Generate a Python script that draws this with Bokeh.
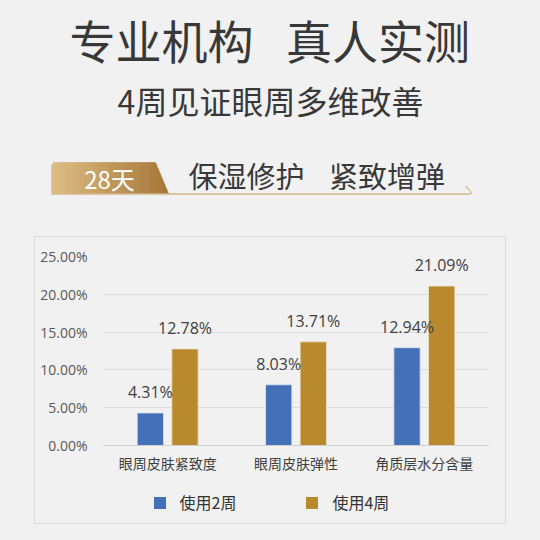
from bokeh.plotting import figure
from bokeh.models import (FactorRange, Range1d, ColumnDataSource, Legend, LegendItem,
                          FixedTicker, PrintfTickFormatter, Spacer, GlobalInlineStyleSheet)
from bokeh.layouts import column, row
from bokeh.transform import dodge
from bokeh.core.properties import value
from bokeh.embed import file_html
from bokeh.resources import INLINE

# ---------------- data ----------------
categories = ["眼周皮肤紧致度", "眼周皮肤弹性", "角质层水分含量"]
series_names = ["使用2周", "使用4周"]
week2 = [4.31, 8.03, 12.94]
week4 = [12.78, 13.71, 21.09]
y_ticks = [0, 5, 10, 15, 20, 25]

title_left = "专业机构"
title_right = "真人实测"
subtitle = "4周见证眼周多维改善"
badge_text = "28天"
heading_left = "保湿修护"
heading_right = "紧致增弹"

BG = "#f1f1f1"
BLUE = "#4470b8"
GOLD = "#b8892d"
BORDER = "1px solid #d9d9d9"
CJK = "Noto Sans CJK SC"

# ---------------- header figure ----------------
HW, HH = 540, 236
h = figure(width=HW, height=HH, x_range=Range1d(0, HW), y_range=Range1d(HH, 0),
           output_backend="svg", toolbar_location=None, min_border=0,
           x_axis_location=None, y_axis_location=None,
           background_fill_color=BG, border_fill_color=BG, outline_line_color=None)
h.grid.visible = False

h.text(x=[161, 377.5], y=[38, 38], text=[title_left, title_right],
       text_font=value(CJK), text_font_size="46px", text_color="#383838",
       text_align="center", text_baseline="middle")
h.text(x=[270], y=[99], text=[subtitle],
       text_font=value(CJK), text_font_size="32px", text_color="#383838",
       text_align="center", text_baseline="middle")

# badge with horizontal gradient (built from thin strips)
bx0, bx1, bx2, by0, by1 = 51, 155, 168, 162, 193
def ytop(x):
    if x <= bx1:
        return by0
    return by0 + (x - bx1) / (bx2 - bx1) * (by1 - by0)

c0 = (0xdc, 0xbd, 0x86)
c1 = (0xa6, 0x75, 0x32)
n = 58
xs, ys, cols = [], [], []
step = (bx2 - bx0) / n
for i in range(n):
    a = bx0 + i * step
    b = a + step
    px = [a]
    py = [ytop(a)]
    if a < bx1 < b:
        px.append(bx1)
        py.append(by0)
    px += [b, b, a]
    py += [ytop(b), by1, by1]
    if i == 0:
        py[0] = by0 + 3
    xs.append(px)
    ys.append(py)
    t = i / (n - 1)
    cols.append("#%02x%02x%02x" % tuple(int(c0[k] + (c1[k] - c0[k]) * t) for k in range(3)))
h.patches(xs=xs, ys=ys, fill_color=cols, line_color=cols, line_width=0.6)

h.line(x=[51, 470], y=[193.5, 193.5], line_color="#d2b688", line_width=1.5)
h.line(x=[465, 468, 470, 471.5], y=[186, 188.5, 191, 193.5], line_color="#d2b688", line_width=1.2)

h.text(x=[109], y=[178], text=[badge_text], text_font=value(CJK), text_font_size="24px",
       text_color="#ffffff", text_align="center", text_baseline="middle")
h.text(x=[246, 386.5], y=[174, 174], text=[heading_left, heading_right],
       text_font=value(CJK), text_font_size="29px", text_color="#383838",
       text_align="center", text_baseline="middle")

# ---------------- bar chart ----------------
src = ColumnDataSource(dict(
    cat=categories, w2=week2, w4=week4,
    l2=["%.2f%%" % v for v in week2], l4=["%.2f%%" % v for v in week4]))

p = figure(x_range=FactorRange(factors=categories), y_range=Range1d(0, 25),
           width=472, height=248, output_backend="svg", toolbar_location=None,
           min_border_left=68, min_border_right=19, min_border_top=19, min_border_bottom=40,
           background_fill_color=BG, border_fill_color=BG, outline_line_color=None)
p.styles = {"border-top": BORDER, "border-left": BORDER, "border-right": BORDER,
            "box-sizing": "border-box"}

r1 = p.vbar(x=dodge("cat", -0.135, range=p.x_range), top="w2", width=0.205, source=src,
            fill_color=BLUE, line_color="#dfe6f2", line_width=0.8)
r2 = p.vbar(x=dodge("cat", 0.135, range=p.x_range), top="w4", width=0.205, source=src,
            fill_color=GOLD, line_color="#efe3cc", line_width=0.8)

p.text(x=dodge("cat", -0.135, range=p.x_range), y="w2", text="l2", source=src,
       y_offset=-21, text_align="center", text_baseline="middle",
       text_font=value("Open Sans"), text_font_size="16px", text_color="#404040")
p.text(x=dodge("cat", 0.135, range=p.x_range), y="w4", text="l4", source=src,
       y_offset=-21, text_align="center", text_baseline="middle",
       text_font=value("Open Sans"), text_font_size="16px", text_color="#404040")

p.xgrid.visible = False
p.ygrid.grid_line_color = "#d9d9d9"
p.ygrid.grid_line_width = 1
p.yaxis.ticker = FixedTicker(ticks=y_ticks)
p.yaxis.formatter = PrintfTickFormatter(format="%.2f%%")
p.yaxis.axis_line_color = None
p.yaxis.major_tick_line_color = None
p.yaxis.minor_tick_line_color = None
p.yaxis.major_label_standoff = 10
p.yaxis.major_label_text_font = "Open Sans"
p.yaxis.major_label_text_font_size = "14px"
p.yaxis.major_label_text_color = "#595959"

p.xaxis.axis_line_color = "#d0d0d0"
p.xaxis.major_tick_line_color = None
p.xaxis.minor_tick_line_color = None
p.xaxis.major_label_standoff = 1
p.xaxis.major_label_text_font = CJK
p.xaxis.major_label_text_font_size = "14px"
p.xaxis.major_label_text_color = "#404040"

# ---------------- legend strip (bottom of the chart box) ----------------
# same series as legend keys only (renderers hidden, keys shown at full colour)
lf = figure(width=472, height=40, x_range=FactorRange(factors=categories),
            y_range=Range1d(-2, -1), output_backend="svg", toolbar_location=None,
            min_border=0, x_axis_location=None, y_axis_location=None,
            background_fill_color=BG, border_fill_color=BG, outline_line_color=None)
lf.styles = {"border-bottom": BORDER, "border-left": BORDER, "border-right": BORDER,
             "box-sizing": "border-box"}
lf.grid.visible = False
k1 = lf.vbar(x=dodge("cat", -0.135, range=lf.x_range), top="w2", width=0.205, source=src,
             fill_color=BLUE, line_color=None, visible=False)
k2 = lf.vbar(x=dodge("cat", 0.135, range=lf.x_range), top="w4", width=0.205, source=src,
             fill_color=GOLD, line_color=None, visible=False)

legend = Legend(items=[LegendItem(label=series_names[0], renderers=[k1]),
                       LegendItem(label=series_names[1], renderers=[k2])],
                orientation="horizontal", location=(48.5, 10), padding=0, margin=0,
                spacing=68, glyph_width=15, glyph_height=15, label_height=15,
                label_standoff=13, inactive_fill_alpha=0,
                background_fill_alpha=0, border_line_color=None,
                label_text_font=CJK, label_text_font_size="16px", label_text_color="#333333")
lf.add_layout(legend)

layout = column(h, row(Spacer(width=34, height=10), column(p, lf)))
layout.stylesheets = [GlobalInlineStyleSheet(css="body { background: #f1f1f1; }")]

open("out.html", "w").write(file_html(layout, INLINE))
